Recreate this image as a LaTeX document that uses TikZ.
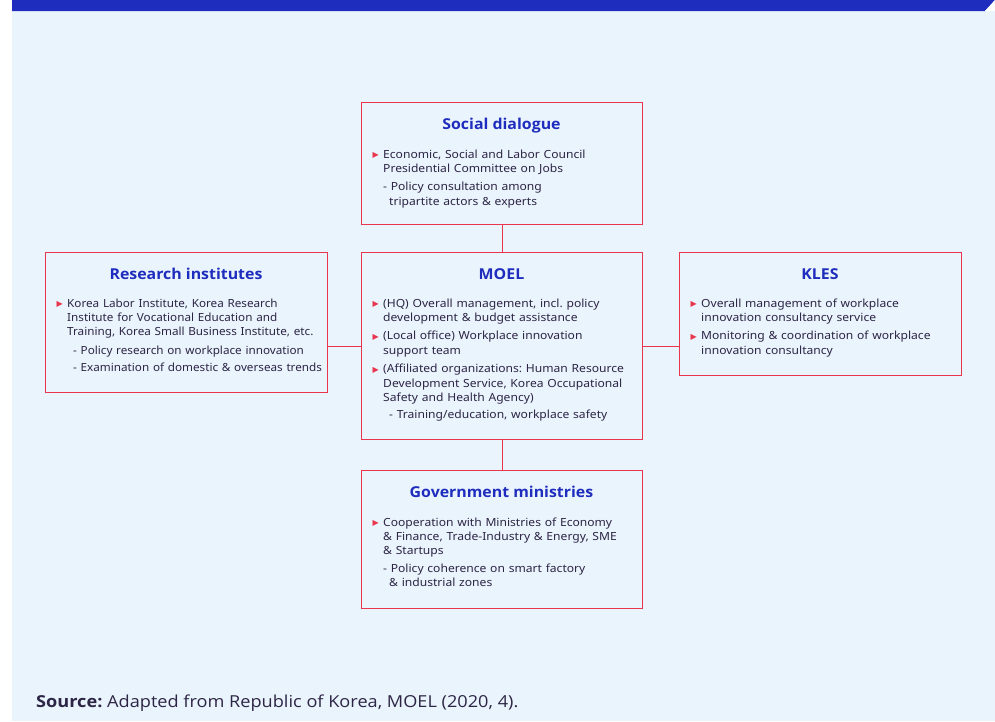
\documentclass[tikz,border=0pt]{standalone}
\usepackage{fontspec}
\setmainfont{Noto Sans}[FakeStretch=1.08]
\newfontfamily\narrowfont{Noto Sans}[FakeStretch=1.045]
\newfontfamily\ttlfont{Open Sans}[FakeStretch=1.06]
\newfontfamily\srcfont{Open Sans}[FakeStretch=1.1]
\newfontfamily\symfont{DejaVu Sans}
\frenchspacing
\definecolor{bgc}{HTML}{EAF4FD}
\definecolor{barc}{HTML}{1E2DBE}
\definecolor{bordc}{HTML}{E8364E}
\definecolor{ttlc}{HTML}{1E2DBE}
\definecolor{bodyc}{HTML}{2D2545}
\newcommand{\bul}{\leavevmode\llap{\textcolor{bordc}{\symfont\fontsize{8}{8}\selectfont\raisebox{0.2pt}{▶}}\hspace{4.5pt}}}
\tikzset{
  box/.style={draw=bordc, line width=1.2pt, fill=bgc, inner sep=0pt, anchor=north west},
  ttl/.style={font=\ttlfont\fontsize{15}{18}\selectfont\bfseries, text=ttlc, anchor=base, inner sep=0pt},
  bodytxt/.style={font=\fontsize{11.2}{14.2}\selectfont, text=bodyc, anchor=base west, align=left, inner sep=0pt, text width=275pt},
  conn/.style={draw=bordc, line width=1.2pt}
}
\begin{document}
\begin{tikzpicture}[x=1pt,y=-1pt]
\useasboundingbox (0,0) rectangle (995,721);
% background
\fill[bgc] (12,0) rectangle (995,721);
\fill[barc] (12,0) -- (995,0) -- (985,11) -- (12,11) -- cycle;
\fill[white] (995,0) -- (995,11) -- (985,11) -- cycle;
% boxes
\node[box, minimum width=281pt, minimum height=122pt] (sd) at (361,102) {};
\node[box, minimum width=282pt, minimum height=140pt] (ri) at (45,252) {};
\node[box, minimum width=281pt, minimum height=187pt] (moel) at (361,252) {};
\node[box, minimum width=282pt, minimum height=123pt] (kles) at (679,252) {};
\node[box, minimum width=281pt, minimum height=138pt] (gov) at (361,470) {};
% connectors
\draw[conn] (sd.south) -- (moel.north);
\draw[conn] (moel.south) -- (gov.north);
\draw[conn] (moel.west) -- (moel.west -| ri.east);
\draw[conn] (moel.east) -- (moel.east -| kles.west);
% titles
\node[ttl] (sdt) at (501.5,129) {Social dialogue};
\node[ttl] (rit) at (186,279) {Research institutes};
\node[ttl] (moelt) at (501.5,279) {MOEL};
\node[ttl] (klest) at (820,279) {KLES};
\node[ttl] (govt) at (501.5,497) {Government ministries};
% bodies
\node[bodytxt] (sdb) at (383,158) {\bul Economic, Social and Labor Council\\
Presidential Committee on Jobs\\[4.5pt]
- Policy consultation among\\
\hspace*{6pt}tripartite actors \& experts};
\node[bodytxt, font=\narrowfont\fontsize{11.2}{14.2}\selectfont] (rib) at (67,307) {\bul Korea Labor Institute, Korea Research\\
Institute for Vocational Education and\\
Training, Korea Small Business Institute, etc.\\[4.5pt]
\hspace*{6pt}- Policy research on workplace innovation\\[3pt]
\hspace*{6pt}- Examination of domestic \& overseas trends};
\node[bodytxt] (moelb) at (383,307) {\bul (HQ) Overall management, incl. policy\\
development \& budget assistance\\[4.5pt]
\bul (Local office) Workplace innovation\\
support team\\[4.5pt]
\bul (Affiliated organizations: Human Resource\\
Development Service, Korea Occupational\\
Safety and Health Agency)\\[3.5pt]
\hspace*{6pt}- Training/education, workplace safety};
\node[bodytxt] (klesb) at (701,307) {\bul Overall management of workplace\\
innovation consultancy service\\[4.5pt]
\bul Monitoring \& coordination of workplace\\
innovation consultancy};
\node[bodytxt] (govb) at (383,526) {\bul Cooperation with Ministries of Economy\\
\& Finance, Trade-Industry \& Energy, SME\\
\& Startups\\[4pt]
- Policy coherence on smart factory\\
\hspace*{6pt}\& industrial zones};
% source
\node[anchor=base west, inner sep=0pt, text=bodyc, font=\srcfont\fontsize{16.5}{19}\selectfont] (src) at (36,707) {\textbf{Source:} Adapted from Republic of Korea, MOEL (2020, 4).};
\end{tikzpicture}
\end{document}
